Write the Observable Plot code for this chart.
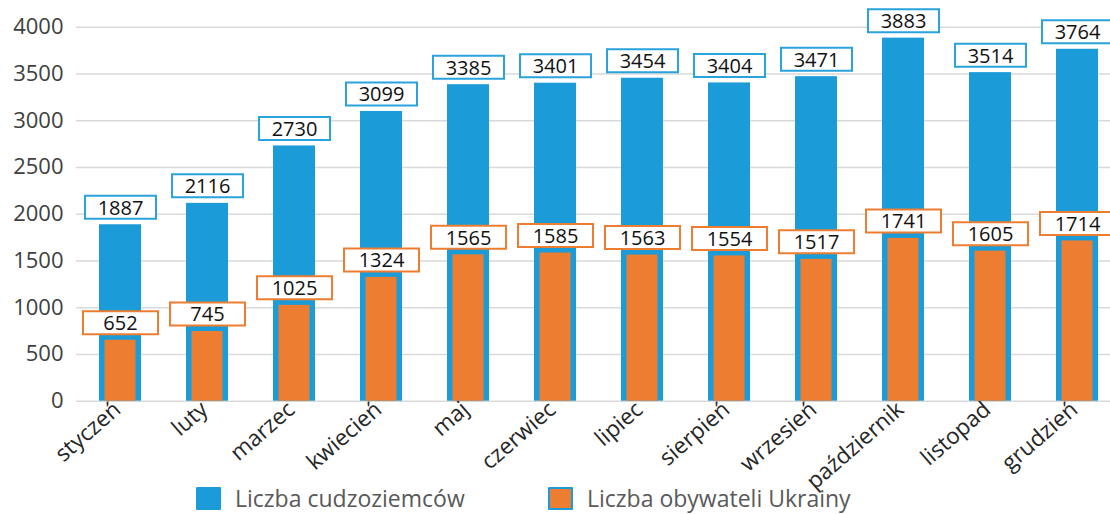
<!DOCTYPE html>
<html>
<head>
<meta charset="utf-8">
<script src="https://cdn.jsdelivr.net/npm/d3@7"></script>
<script src="https://cdn.jsdelivr.net/npm/@observablehq/plot@0.6"></script>
<style>
  html, body { margin: 0; padding: 0; background: #fff; }
  #wrap { position: relative; width: 1110px; height: 514px; font-family: "Open Sans", sans-serif; overflow: hidden; }
  #chart svg { display: block; }
  .leg { position: absolute; top: 487px; height: 23px; line-height: 23px; display: flex; align-items: center; font-size: 23px; color: #595959; white-space: nowrap; }
  .sw { width: 25px; height: 23px; box-sizing: border-box; margin-right: 14px; border-radius: 1px; }
</style>
</head>
<body>
<div id="wrap">
  <div id="chart"></div>
  <div class="leg" style="left:196px"><div class="sw" style="background:#1b9cd8"></div>Liczba cudzoziemców</div>
  <div class="leg" style="left:548px"><div class="sw" style="background:#ed7d31;border:2.5px solid #1b9cd8"></div>Liczba obywateli Ukrainy</div>
</div>
<script>
const months = ["styczeń","luty","marzec","kwiecień","maj","czerwiec","lipiec","sierpień","wrzesień","październik","listopad","grudzień"];
const foreigners = [1887,2116,2730,3099,3385,3401,3454,3404,3471,3883,3514,3764];
const ukrainians = [652,745,1025,1324,1565,1585,1563,1554,1517,1741,1605,1714];
const yTicks = [0,500,1000,1500,2000,2500,3000,3500,4000];

const blue = "#1b9cd8";
const blueBox = "#2aa3dd";
const orange = "#ed7d31";

const rows = months.map((m, i) => ({month: m, f: foreigners[i], u: ukrainians[i]}));

const boxSymbol = (w, h) => ({ draw(ctx) { ctx.rect(-w / 2, -h / 2, w, h); } });

const plot = Plot.plot({
  width: 1110,
  height: 486,
  marginLeft: 76,
  marginRight: 0,
  marginTop: 26.7,
  marginBottom: 85.3,
  style: { fontFamily: "Open Sans", background: "#fff", overflow: "visible" },
  x: { domain: months, range: [52.9, 1143.2], padding: 0.518, label: null },
  y: { domain: [0, 4000], label: null },
  marks: [
    Plot.gridY(yTicks, { stroke: "#d9d9d9", strokeOpacity: 1, strokeWidth: 1.5 }),
    Plot.axisY(yTicks, { tickSize: 0, tickPadding: 13, fontSize: 22, fill: "#404040", label: null, tickFormat: d => String(d) }),
    Plot.axisX({ tickSize: 0, tickPadding: 5, dx: -3, tickRotate: -41, fontSize: 22.5, fill: "#262626", label: null }),
    Plot.barY(rows, { x: "month", y: "f", fill: blue }),
    Plot.barY(rows, { x: "month", y: "u", fill: orange, insetLeft: 5.5, insetRight: 5.5 }),
    Plot.dot(rows, { x: "month", y: "f", symbol: boxSymbol(71, 23), r: 1, fill: "white", stroke: blueBox, strokeWidth: 2, dy: -17.5 }),
    Plot.text(rows, { x: "month", y: "f", text: d => String(d.f), dy: -16.5, fontSize: 20, fill: "#111", lineAnchor: "middle" }),
    Plot.dot(rows, { x: "month", y: "u", symbol: boxSymbol(75, 23), r: 1, fill: "white", stroke: orange, strokeWidth: 2, dy: -17.5 }),
    Plot.text(rows, { x: "month", y: "u", text: d => String(d.u), dy: -16.5, fontSize: 20, fill: "#111", lineAnchor: "middle" })
  ]
});
document.getElementById("chart").appendChild(plot);
</script>
</body>
</html>
